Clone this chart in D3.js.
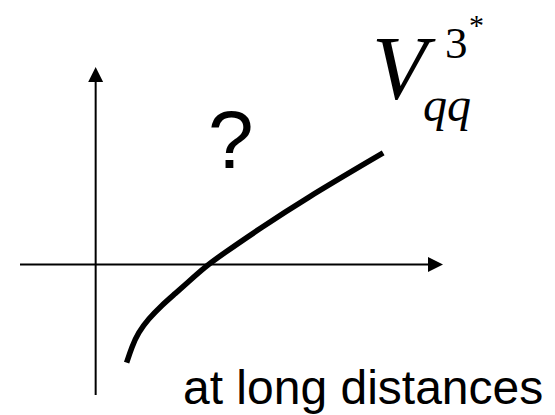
<!DOCTYPE html>
<html lang="en"><head><meta charset="UTF-8">
<script src="https://d3js.org/d3.v7.min.js"></script>
<style>
    body { margin: 0; background: #fff; }
    svg { display: block; }
</style>
</head>
<body>
<div id="potential"></div>
<script>
// curve (r, V) in arbitrary units, origin where the axes cross
var rValues = [0.90, 1.05, 1.24, 1.53, 1.92, 2.31, 2.69, 3.18, 3.67, 4.78, 6.04, 8.36];
var vValues = [-2.86, -2.40, -1.98, -1.59, -1.19, -0.85, -0.51, -0.07, 0.29, 1.05, 1.88, 3.25];

var labelQuestion = "?";
var labelBottom = "at long distances";
var symbolMain = "V", symbolSup = "3", symbolStar = "*", symbolSub = "qq";

var width = 555, height = 415;
var svg, x, y;

function drawChart() {
    svg = d3.select("#potential")
        .append("svg")
        .attr("width", width)
        .attr("height", height);

    x = d3.scaleLinear().domain([-2.2, 10.1]).range([20, 443]);
    y = d3.scaleLinear().domain([-3.8, 5.75]).range([395, 67]);

    var head = 15, half = 7.5;

    // horizontal axis with arrow
    svg.append("line")
        .attr("x1", x.range()[0]).attr("x2", x.range()[1] - head)
        .attr("y1", y(0)).attr("y2", y(0))
        .attr("stroke", "#000").attr("stroke-width", 2);
    svg.append("path")
        .attr("d", "M" + x.range()[1] + "," + y(0) +
                   "L" + (x.range()[1] - head) + "," + (y(0) - half) +
                   "L" + (x.range()[1] - head) + "," + (y(0) + half) + "Z")
        .attr("fill", "#000");

    // vertical axis with arrow
    svg.append("line")
        .attr("x1", x(0)).attr("x2", x(0))
        .attr("y1", y.range()[0]).attr("y2", y.range()[1] + head)
        .attr("stroke", "#000").attr("stroke-width", 2);
    svg.append("path")
        .attr("d", "M" + x(0) + "," + y.range()[1] +
                   "L" + (x(0) - half) + "," + (y.range()[1] + head) +
                   "L" + (x(0) + half) + "," + (y.range()[1] + head) + "Z")
        .attr("fill", "#000");

    // the potential curve
    var pts = rValues.map(function(r, i) { return [r, vValues[i]]; });
    var line = d3.line()
        .x(function(d) { return x(d[0]); })
        .y(function(d) { return y(d[1]); })
        .curve(d3.curveBasis);
    svg.append("path")
        .datum(pts)
        .attr("d", line)
        .attr("fill", "none")
        .attr("stroke", "#000")
        .attr("stroke-width", 5.5);

    // question mark
    svg.append("text")
        .attr("x", 208).attr("y", 168)
        .style("font-family", "'Liberation Sans', Arial, sans-serif")
        .style("font-size", "82px")
        .text(labelQuestion);

    // bottom caption
    svg.append("text")
        .attr("x", 183).attr("y", 404)
        .style("font-family", "'Liberation Sans', Arial, sans-serif")
        .style("font-size", "48px")
        .text(labelBottom);

    // V_qq^{3*}
    var serif = "'Liberation Serif', 'Times New Roman', serif";
    svg.append("text")
        .attr("x", 372).attr("y", 99)
        .style("font-family", serif).style("font-style", "italic")
        .style("font-size", "90px")
        .text(symbolMain);
    svg.append("text")
        .attr("x", 445).attr("y", 58)
        .style("font-family", serif)
        .style("font-size", "45px")
        .text(symbolSup);
    svg.append("text")
        .attr("x", 469).attr("y", 35)
        .style("font-family", serif)
        .style("font-size", "30px")
        .text(symbolStar);
    svg.append("text")
        .attr("x", 423).attr("y", 121)
        .style("font-family", serif).style("font-style", "italic")
        .style("font-size", "48px")
        .text(symbolSub);
}

drawChart();
</script>
</body>
</html>
